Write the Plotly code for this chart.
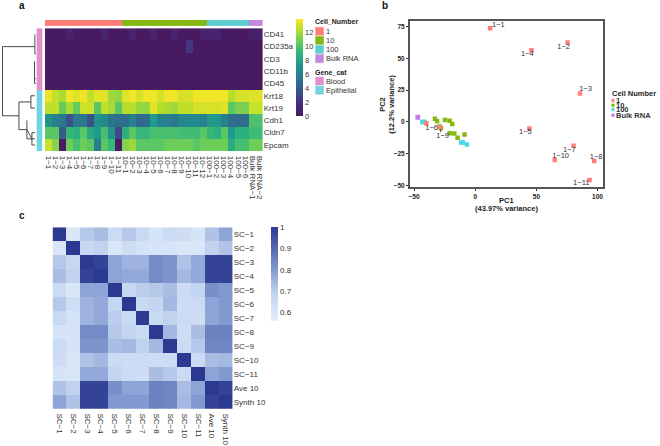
import plotly.graph_objects as go

W = 660
H = 446
FONT = "Liberation Sans"

# panel a: expression heatmap
genes = ["CD41", "CD235a", "CD3", "CD11b", "CD45", "Krt18", "Krt19", "Cdh1", "Cldn7", "Epcam"]
samples = ["1−1", "1−2", "1−3", "1−4", "1−5", "1−6", "1−7", "1−8", "1−9", "1−10", "1−11",
           "10−1", "10−2", "10−3", "10−4", "10−5", "10−6", "10−7", "10−8", "10−9", "10−10", "10−11", "10−12",
           "100−1", "100−2", "100−3", "100−4", "100−5", "100−6", "Bulk RNA−1", "Bulk RNA−2"]
cd41 = [0, 0, 0, 1, 0, 0, 0, 0, 1, 0, 0, 0, 1, 0, 0, 1, 0, 0, 1, 0, 0, 0, 1, 1, 1, 0, 0, 0, 0, 0.7, 0.7]
cd235a = [0, 0, 0, 0, 0, 0, 0, 0, 0, 0, 0, 0, 0, 0, 0, 0, 0, 0, 0, 0, 2.2, 0, 0, 0, 0, 0, 0, 0, 0, 0, 0]
cd3 = [0] * 31
cd11b = [0] * 31
cd45 = [0] * 31
krt18 = [13.5, 12.5, 12, 13.6, 13.2, 13.6, 12.5, 13.3, 13.3, 11.8, 11.5, 13.2, 13.6, 13, 13.6, 13.6, 13, 13.6, 13.6,
         13, 13, 13.6, 13.6, 13.6, 13.6, 13.6, 12.3, 13, 13, 13.2, 13.2]
krt19 = [12.5, 12.5, 10.5, 12, 10.5, 12.8, 12.8, 10.2, 12.5, 12, 10.2, 12.3, 12.3, 11.5, 11.5, 13.3, 12.3, 12, 11.8,
         12.5, 12.5, 13, 13, 13, 13, 13.2, 10.2, 11, 11, 12.7, 12.7]
cdh1 = [7, 6, 5.5, 3.5, 5.5, 5.5, 3.5, 7, 6.5, 5.3, 5, 5, 6, 4.5, 5, 7.5, 6, 6, 5.5, 6.5, 6.5, 6.5, 6, 7.3, 7.3, 6,
        4.8, 4.8, 4.8, 9.8, 9.8]
cldn7 = [10.2, 10.2, 4, 9.2, 8.7, 10.2, 8.2, 7.5, 9.7, 7, 3, 8.7, 10.2, 9.2, 9.2, 9.7, 9.7, 9.7, 9.7, 9.5, 9.5, 9.5,
         10.2, 9.2, 8.7, 10.2, 7.5, 8.7, 8.7, 9.4, 9.4]
epcam = [12.7, 11.2, 0.2, 10.7, 9.7, 10.7, 10.2, 5.8, 10.2, 9.2, 0.2, 11.2, 11.7, 10.2, 10.2, 10.2, 10.2, 10.7, 10.7,
         10.7, 10.7, 10.2, 10.7, 10.7, 10.7, 10.7, 8.5, 9.7, 9.7, 10.7, 10.7]
expr = [cd41, cd235a, cd3, cd11b, cd45, krt18, krt19, cdh1, cldn7, epcam]

sample_group = [0] * 11 + [1] * 12 + [2] * 6 + [3] * 2
gene_group = [0] * 5 + [1] * 5
group_colors = ["#FF7F78", "#86B812", "#5CCDD1", "#C487DD"]
gene_colors = ["#E38FCF", "#74D3E3"]
group_names = ["1", "10", "100", "Bulk RNA"]
gene_names = ["Blood", "Epithelial"]

# viridis with the slightly washed out purple of the original
expr_scale = [[0, "#471A61"], [0.11, "#482878"], [0.22, "#3E4989"], [0.33, "#31688E"], [0.44, "#26828E"],
              [0.55, "#1F9E89"], [0.66, "#35B779"], [0.77, "#6DCD59"], [0.88, "#B4DE2C"], [1, "#FDE725"]]

# row dendrogram, height then row position
dend_h = [34, 1.5, 1.5, 18, None, 18, 18, 26, None, 18, 30, 30, 34, None, 30, 30, 34, None,
          26, 26, 34, None, 26, 31, 31, 34, None, 31, 31, 34, None,
          34, 34, 35, None, 34, 33.6, 33.6, 35, None, 33.6, 33.6, 35]
dend_r = [1, 1, 6.625, 6.625, None, 5.5, 7.75, 7.75, None, 5.5, 5.5, 5, 5, None, 5.5, 6, 6, None,
          7, 8.5, 8.5, None, 7.75, 8.5, 8, 8, None, 8.5, 9, 9, None,
          0, 1.6, 1.6, None, 2.2, 2.2, 3.6, 3.6, None, 3.6, 4, 4]

# panel b: PCA
pc1_1 = [12.2, 75.5, 85.6, 46, 44.3, -40, 80.4, 97.3, -29, 65, 93.5]
pc2_1 = [73.7, 62.5, 22.3, 56.5, -5.2, -1, -18.8, -30.8, -4.2, -30, -45.7]
labels_1 = ["1−1", "1−2", "1−3", "1−4", "1−5", "1−6", "1−7", "1−8", "1−9", "1−10", "1−11"]
label_x = [19, 72.3, 90.2, 42.7, 41, -35.6, 76.9, 98.9, -26.6, 69.8, 86.7]
label_y = [76.3, 59, 25.9, 53, -8.4, -4.7, -21.9, -27.7, -11, -26.9, -48.3]
pc1_10 = [-32.9, -31.2, -24.7, -20.9, -18.8, -20.9, -17.1, -14.4, -8.7, -29, -28]
pc2_10 = [2.6, 0.5, 1.6, 1, -1.6, -8.9, -9.1, -12.5, -9.9, -3.5, -5]
pc1_100 = [-43.2, -42, -41.3, -11.4, -10, -6.8]
pc2_100 = [0, 0, 0, -16.2, -16.2, -17.8]
pc1_bulk = [-47, -46.8]
pc2_bulk = [3.9, 3.6]
tick_pc1 = [-50, 0, 50, 100]
tick_pc2 = [-50, -25, 0, 25, 50, 75]

# panel c: correlation
sc_names = ["SC−1", "SC−2", "SC−3", "SC−4", "SC−5", "SC−6", "SC−7", "SC−8", "SC−9", "SC−10", "SC−11", "Ave 10", "Synth 10"]
sc1 = [1, .60, .71, .73, .65, .71, .66, .61, .65, .64, .61, .72, .78]
sc2 = [.60, 1, .67, .69, .60, .64, .62, .61, .61, .60, .60, .69, .72]
sc3 = [.71, .67, 1, .98, .78, .75, .75, .83, .81, .72, .77, .98, .98]
sc4 = [.73, .69, .98, 1, .78, .77, .77, .83, .81, .74, .77, .98, .98]
sc5 = [.65, .60, .78, .78, 1, .67, .70, .71, .73, .65, .68, .82, .80]
sc6 = [.71, .64, .75, .77, .67, 1, .66, .68, .74, .64, .65, .78, .80]
sc7 = [.66, .62, .75, .77, .70, .66, 1, .66, .69, .65, .64, .78, .80]
sc8 = [.61, .61, .83, .83, .71, .68, .66, 1, .74, .64, .73, .85, .85]
sc9 = [.65, .61, .81, .81, .73, .74, .69, .74, 1, .65, .71, .84, .84]
sc10 = [.64, .60, .72, .74, .65, .64, .65, .64, .65, 1, .65, .73, .74]
sc11 = [.61, .60, .77, .77, .68, .65, .64, .73, .71, .65, 1, .78, .80]
ave10 = [.72, .69, .98, .98, .82, .78, .78, .85, .84, .73, .78, 1, .98]
synth10 = [.78, .72, .98, .98, .80, .80, .80, .85, .84, .74, .80, .98, 1]
corr = [sc1, sc2, sc3, sc4, sc5, sc6, sc7, sc8, sc9, sc10, sc11, ave10, synth10]


def px(x):
    return x / W


def py(y):
    return 1 - y / H


def xdom(a, b):
    return [px(a), px(b)]


def ydom(top, bottom):
    return [py(bottom), py(top)]


def discrete(colors):
    n = len(colors)
    scale = []
    for i, c in enumerate(colors):
        scale.append([i / n, c])
        scale.append([(i + 1) / n, c])
    return scale


def add_text(fig, x, y, text, size=8, bold=False, color="#333333", anchor="left", angle=0):
    if bold:
        text = "<b>" + text + "</b>"
    fig.add_annotation(x=px(x), y=py(y), xref="paper", yref="paper", text=text, showarrow=False,
                       xanchor=anchor, yanchor="middle", textangle=angle, borderpad=0, borderwidth=0,
                       font=dict(family=FONT, size=size, color=color))


def add_box(fig, x0, y0, x1, y1, color):
    fig.add_shape(type="rect", xref="paper", yref="paper", x0=px(x0), x1=px(x1), y0=py(y0), y1=py(y1),
                  fillcolor=color, line=dict(width=0.5, color="white"))


fig = go.Figure()

# a: main heatmap
fig.add_trace(go.Heatmap(z=expr, x=samples, y=genes, colorscale=expr_scale, zmin=0, zmax=13.9, xaxis="x", yaxis="y",
                         colorbar=dict(x=px(296), xanchor="left", y=py(19), yanchor="top", len=96.5, lenmode="pixels",
                                       thickness=7, thicknessmode="pixels", outlinewidth=0, ticks="", tickvals=[0, 2, 4, 6, 8, 10, 12],
                                       tickfont=dict(family=FONT, size=7.5, color="#333333"), xpad=0, ypad=0)))
fig.add_trace(go.Heatmap(z=[sample_group], x=samples, y=["Cell_Number"], colorscale=discrete(group_colors), zmin=-0.5, zmax=3.5,
                         showscale=False, xaxis="x2", yaxis="y2"))
fig.add_trace(go.Heatmap(z=[[g] for g in gene_group], x=["Gene_cat"], y=genes, colorscale=discrete(gene_colors), zmin=-0.5, zmax=1.5,
                         showscale=False, xaxis="x3", yaxis="y3"))
fig.add_trace(go.Scatter(x=dend_h, y=dend_r, mode="lines", line=dict(color="#333333", width=0.9), showlegend=False,
                         xaxis="x4", yaxis="y4", hoverinfo="skip"))

# b: pca
marker = dict(symbol="square", size=4.5)
fig.add_trace(go.Scatter(x=pc1_10, y=pc2_10, mode="markers", marker=dict(color=group_colors[1], **marker), showlegend=False, xaxis="x5", yaxis="y5"))
fig.add_trace(go.Scatter(x=pc1_100, y=pc2_100, mode="markers", marker=dict(color="#4FD6E6", **marker), showlegend=False, xaxis="x5", yaxis="y5"))
fig.add_trace(go.Scatter(x=pc1_bulk, y=pc2_bulk, mode="markers", marker=dict(color="#CC79F0", **marker), showlegend=False, xaxis="x5", yaxis="y5"))
fig.add_trace(go.Scatter(x=pc1_1, y=pc2_1, mode="markers", marker=dict(color=group_colors[0], **marker), showlegend=False, xaxis="x5", yaxis="y5"))
fig.add_trace(go.Scatter(x=label_x, y=label_y, text=labels_1, textposition="middle center", mode="text", cliponaxis=False,
                         textfont=dict(family=FONT, size=7.5, color="#333333"), showlegend=False, xaxis="x5", yaxis="y5"))
# little leader under 1-9
fig.add_trace(go.Scatter(x=[-28.3, -28.3], y=[-5.5, -8.1], mode="lines", line=dict(color="#333333", width=0.8), showlegend=False, xaxis="x5", yaxis="y5"))

# c: correlation
fig.add_trace(go.Heatmap(z=corr, x=sc_names, y=sc_names, zmin=0.56, zmax=1,
                         colorscale=[[0, "#E3EFFC"], [0.3, "#C0D2EF"], [0.55, "#8098D0"], [1, "#2B3990"]], xaxis="x6", yaxis="y6",
                         colorbar=dict(x=px(270.7), xanchor="left", y=py(228), yanchor="top", len=93.7, lenmode="pixels",
                                       thickness=6.5, thicknessmode="pixels", outlinewidth=0, ticks="", tickvals=[0.6, 0.7, 0.8, 0.9, 1],
                                       ticktext=["0.6", "0.7", "0.8", "0.9", "1"],
                                       tickfont=dict(family=FONT, size=8, color="#333333"), xpad=0, ypad=0)))

tick_font = dict(family=FONT, size=8, color="#333333")
pca_tick_font = dict(family=FONT, size=6.5, color="#222222", weight="bold")
hidden = dict(showticklabels=False, ticks="", showgrid=False, zeroline=False, showline=False)
gap = dict(ticks="outside", ticklen=2, tickcolor="rgba(0,0,0,0)")

fig.update_layout(
    width=W, height=H, autosize=False, margin=dict(l=0, r=0, t=0, b=0),
    paper_bgcolor="white", plot_bgcolor="white", showlegend=False,
    xaxis=dict(domain=xdom(44, 262.5), type="category", side="bottom", tickangle=90, tickmode="array", tickvals=samples, ticktext=samples,
               tickfont=tick_font, showgrid=False, zeroline=False, anchor="y", **gap),
    yaxis=dict(domain=ydom(28.3, 151.8), type="category", side="right", autorange="reversed", tickmode="array", tickvals=genes, ticktext=genes,
               tickfont=tick_font, ticks="", showgrid=False, zeroline=False, anchor="x"),
    xaxis2=dict(domain=xdom(44, 262.5), type="category", anchor="y2", **hidden),
    yaxis2=dict(domain=ydom(20, 26.5), type="category", anchor="x2", **hidden),
    xaxis3=dict(domain=xdom(35.5, 42), type="category", anchor="y3", **hidden),
    yaxis3=dict(domain=ydom(28.3, 151.8), type="category", autorange="reversed", anchor="x3", **hidden),
    xaxis4=dict(domain=xdom(0, 35), range=[0, 35], anchor="y4", **hidden),
    yaxis4=dict(domain=ydom(28.3, 151.8), range=[9.5, -0.5], anchor="x4", **hidden),
    xaxis5=dict(domain=xdom(410, 604), range=[-53.5, 104.6], tickvals=tick_pc1, anchor="y5",
                ticks="outside", ticklen=2, tickcolor="#333333", tickfont=pca_tick_font,
                showgrid=False, zeroline=False, showline=True, mirror=True, linecolor="#555555", linewidth=1.5),
    yaxis5=dict(domain=ydom(21, 188), range=[-51.3, 79.5], tickvals=tick_pc2, anchor="x5",
                ticks="outside", ticklen=2, tickcolor="#333333", tickfont=pca_tick_font,
                showgrid=False, zeroline=False, showline=True, mirror=True, linecolor="#555555", linewidth=1.5),
    xaxis6=dict(domain=xdom(51.7, 232.5), type="category", tickangle=90, tickmode="array", tickvals=sc_names, ticktext=sc_names,
                tickfont=tick_font, showgrid=False, zeroline=False, anchor="y6", **gap),
    yaxis6=dict(domain=ydom(228.3, 410.7), type="category", side="right", autorange="reversed", tickmode="array", tickvals=sc_names, ticktext=sc_names,
                tickfont=tick_font, ticks="", showgrid=False, zeroline=False, anchor="x6"),
)

# panel letters
add_text(fig, 18, 6, "a", size=10, bold=True, color="#111111")
add_text(fig, 382, 6, "b", size=10, bold=True, color="#111111")
add_text(fig, 18, 216, "c", size=10, bold=True, color="#111111")

# pca axis titles
add_text(fig, 507, 201, "PC1", size=7.5, bold=True, color="#222222", anchor="center")
add_text(fig, 507, 209, "(43.97% variance)", size=7.5, bold=True, color="#222222", anchor="center")
add_text(fig, 382.5, 105, "PC2", size=7.5, bold=True, color="#222222", anchor="center", angle=-90)
add_text(fig, 391.5, 105, "(12.2% variance)", size=7.5, bold=True, color="#222222", anchor="center", angle=-90)

# legends for panel a
add_text(fig, 315, 22, "Cell_Number", size=7, bold=True, color="#222222")
for i, name in enumerate(group_names):
    add_box(fig, 315, 27 + i * 9.1, 324, 27 + (i + 1) * 9.1, group_colors[i])
    add_text(fig, 326, 31.5 + i * 9.1, name, size=7.5)
add_text(fig, 315, 72.5, "Gene_cat", size=7, bold=True, color="#222222")
for i, name in enumerate(gene_names):
    add_box(fig, 315, 77 + i * 9.1, 324, 77 + (i + 1) * 9.1, gene_colors[i])
    add_text(fig, 326, 81.5 + i * 9.1, name, size=7.5)

# legend for panel b, the rows really are this tight
add_text(fig, 613, 94, "Cell Number", size=7.5, bold=True, color="#222222")
pca_colors = [group_colors[0], group_colors[1], "#4FD6E6", "#CC79F0"]
pca_rows = [101, 105.7, 110, 115.7]
for name, c, ypos in zip(group_names, pca_colors, pca_rows):
    add_box(fig, 612, ypos - 1.8, 615.6, ypos + 1.8, c)
    add_text(fig, 617, ypos, name, size=7.5, bold=True, color="#333333")

fig.write_html("out.html", post_script="document.body.style.margin='0';", config={"displayModeBar": False})
